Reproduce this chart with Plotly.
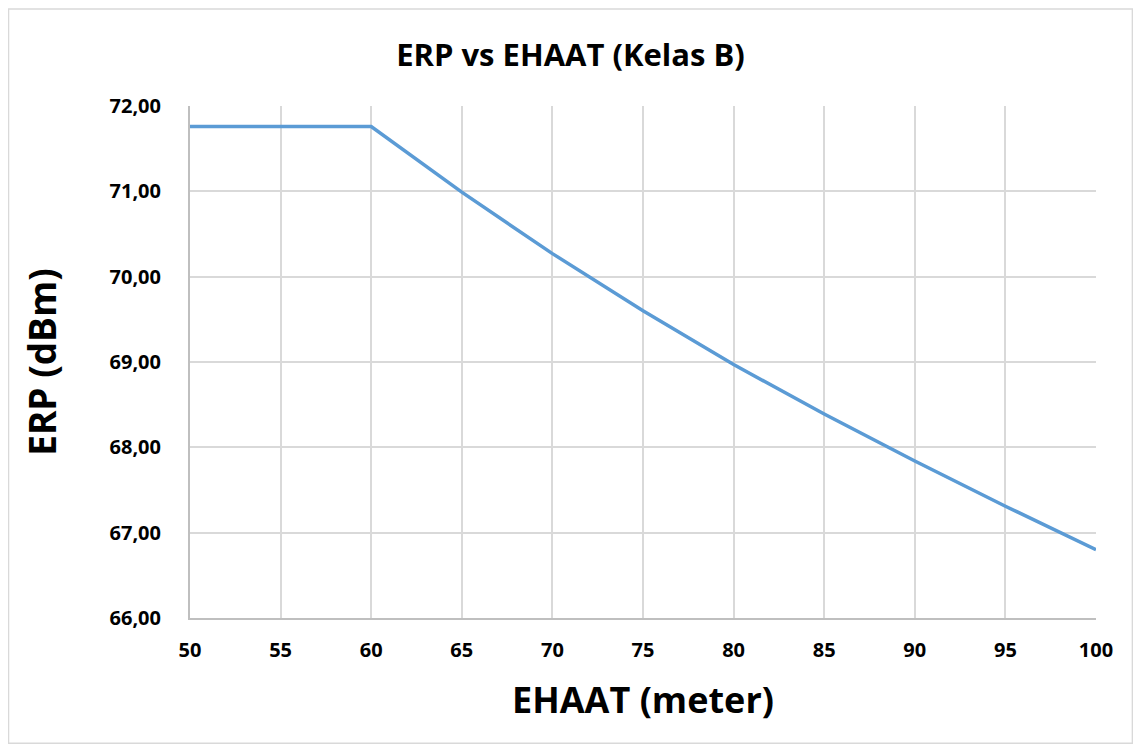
import plotly.graph_objects as go

# EHAAT (meter) vs ERP (dBm), Kelas B
ehaat = [50, 55, 60, 65, 70, 75, 80, 85, 90, 95, 100]
erp = [71.76, 71.76, 71.76, 70.99, 70.27, 69.60, 68.97, 68.39, 67.84, 67.31, 66.80]

FONT = "Open Sans"

fig = go.Figure()
fig.add_trace(go.Scatter(
    x=ehaat, y=erp, mode="lines",
    line=dict(color="#5b9bd5", width=3.5),
    showlegend=False,
))

fig.update_layout(
    width=1125, height=736,
    margin=dict(l=182, r=37, t=98, b=126),
    paper_bgcolor="white", plot_bgcolor="white",
    separators=",.",
    font=dict(family=FONT, color="black"),
    title=dict(text="<b>ERP vs EHAAT (Kelas B)</b>", x=0.5, xanchor="center",
               y=0.936, yanchor="middle", font=dict(size=31, family=FONT)),
    shapes=[dict(type="rect", xref="paper", yref="paper",
                 x0=-0.2003, x1=1.0402, y0=-0.2446, y1=1.1895,
                 line=dict(color="#d9d9d9", width=1.5))],
)

fig.update_xaxes(
    range=[50, 100], dtick=5, tick0=50,
    showgrid=True, gridcolor="#d9d9d9", gridwidth=1.5,
    showline=True, linecolor="#bfbfbf", linewidth=2,
    ticks="", ticklabelstandoff=13, zeroline=False,
    tickfont=dict(size=20, family=FONT),
    tickprefix="<b>", ticksuffix="</b>",
    title=dict(text="<b>EHAAT (meter)</b>", font=dict(size=36, family=FONT), standoff=26),
)
fig.update_yaxes(
    range=[66, 72], dtick=1, tick0=66, tickformat=".2f",
    showgrid=True, gridcolor="#d9d9d9", gridwidth=1.5,
    showline=True, linecolor="#bfbfbf", linewidth=2,
    ticks="", ticklabelstandoff=23, zeroline=False,
    tickfont=dict(size=20, family=FONT),
    tickprefix="<b>", ticksuffix="</b>",
    title=dict(text="<b>ERP (dBm)</b>", font=dict(size=37, family=FONT), standoff=42),
)

fig.write_html("out.html")
